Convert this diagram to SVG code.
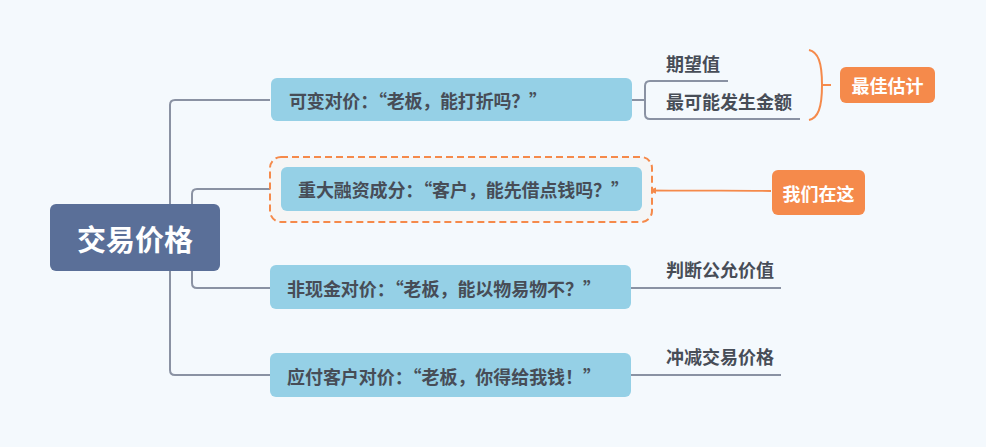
<svg xmlns="http://www.w3.org/2000/svg" width="986" height="447" viewBox="0 0 986 447">
<style>
text{font-family:"Noto Sans CJK SC","Noto Sans",sans-serif;font-weight:bold;dominant-baseline:central}
.sub{fill:#95D0E6}
.st{font-size:18px;fill:#474D57}
.lbl{font-size:18px;fill:#474D57;dominant-baseline:auto}
.con{fill:none;stroke:#8A92A3;stroke-width:2}
.or{fill:#F58A4B}
.wt{font-size:18px;fill:#FFFFFF;text-anchor:middle}
</style>
<defs>
<marker id="ah" markerWidth="9" markerHeight="8" refX="8" refY="4" orient="auto" markerUnits="userSpaceOnUse">
<path d="M0,0.8 L8,4 L0,7.2 Z" fill="#F58A4B"/>
</marker>
</defs>
<rect width="986" height="447" fill="#F4F9FD"/>
<g id="connectors">
<path class="con" d="M270,100 H175 Q170,100 170,105 V370 Q170,375 175,375 H270"/>
<path class="con" d="M280,189 H197 Q192,189 192,194 V283 Q192,288 197,288 H270"/>
<path class="con" d="M632,100 H645 M728,81 H650 Q645,81 645,86 V114 Q645,119 650,119 H800"/>
<path class="con" d="M631,288 H781"/>
<path class="con" d="M631,375 H781"/>
<path d="M809,50 C818,52 822,62 822,85 C822,108 818,118 809,120 M822,85 H831" fill="none" stroke="#F58A4B" stroke-width="2"/>
<path d="M771,191 C730,190 690,191 648,190.5" fill="none" stroke="#F58A4B" stroke-width="1.8" marker-end="url(#ah)"/>
</g>
<g id="root">
<rect x="50" y="204" width="170" height="67" rx="6" fill="#5A6F98"/>
<text x="135" y="238" font-size="29" fill="#FFFFFF" text-anchor="middle">交易价格</text>
</g>
<g id="n1">
<rect class="sub" x="271" y="78" width="361" height="43" rx="6"/>
<text class="st" x="289" y="100" textLength="258" lengthAdjust="spacing">可变对价：“老板，能打折吗？”</text>
</g>
<g id="n2">
<rect x="270" y="157" width="382" height="65" rx="11" fill="#F5F5F5" stroke="#F58A4B" stroke-width="2" stroke-dasharray="7,4"/>
<rect class="sub" x="281" y="167" width="361" height="44" rx="6"/>
<text class="st" x="298" y="189" textLength="331" lengthAdjust="spacing">重大融资成分：“客户，能先借点钱吗？”</text>
</g>
<g id="n3">
<rect class="sub" x="270" y="265" width="361" height="44" rx="6"/>
<text class="st" x="287" y="288" textLength="314" lengthAdjust="spacing">非现金对价：“老板，能以物易物不？”</text>
</g>
<g id="n4">
<rect class="sub" x="270" y="353" width="361" height="44" rx="6"/>
<text class="st" x="287" y="376" textLength="314" lengthAdjust="spacing">应付客户对价：“老板，你得给我钱！”</text>
</g>
<g id="l1"><text class="lbl" x="666" y="71">期望值</text></g>
<g id="l2"><text class="lbl" x="666" y="109">最可能发生金额</text></g>
<g id="l3"><text class="lbl" x="666" y="277">判断公允价值</text></g>
<g id="l4"><text class="lbl" x="666" y="364">冲减交易价格</text></g>
<g id="best">
<rect class="or" x="840" y="67" width="95" height="36" rx="6"/>
<text class="wt" x="887.5" y="85">最佳估计</text>
</g>
<g id="here">
<rect class="or" x="772" y="170" width="93" height="45" rx="6"/>
<text class="wt" x="818.5" y="192.5">我们在这</text>
</g>
</svg>
